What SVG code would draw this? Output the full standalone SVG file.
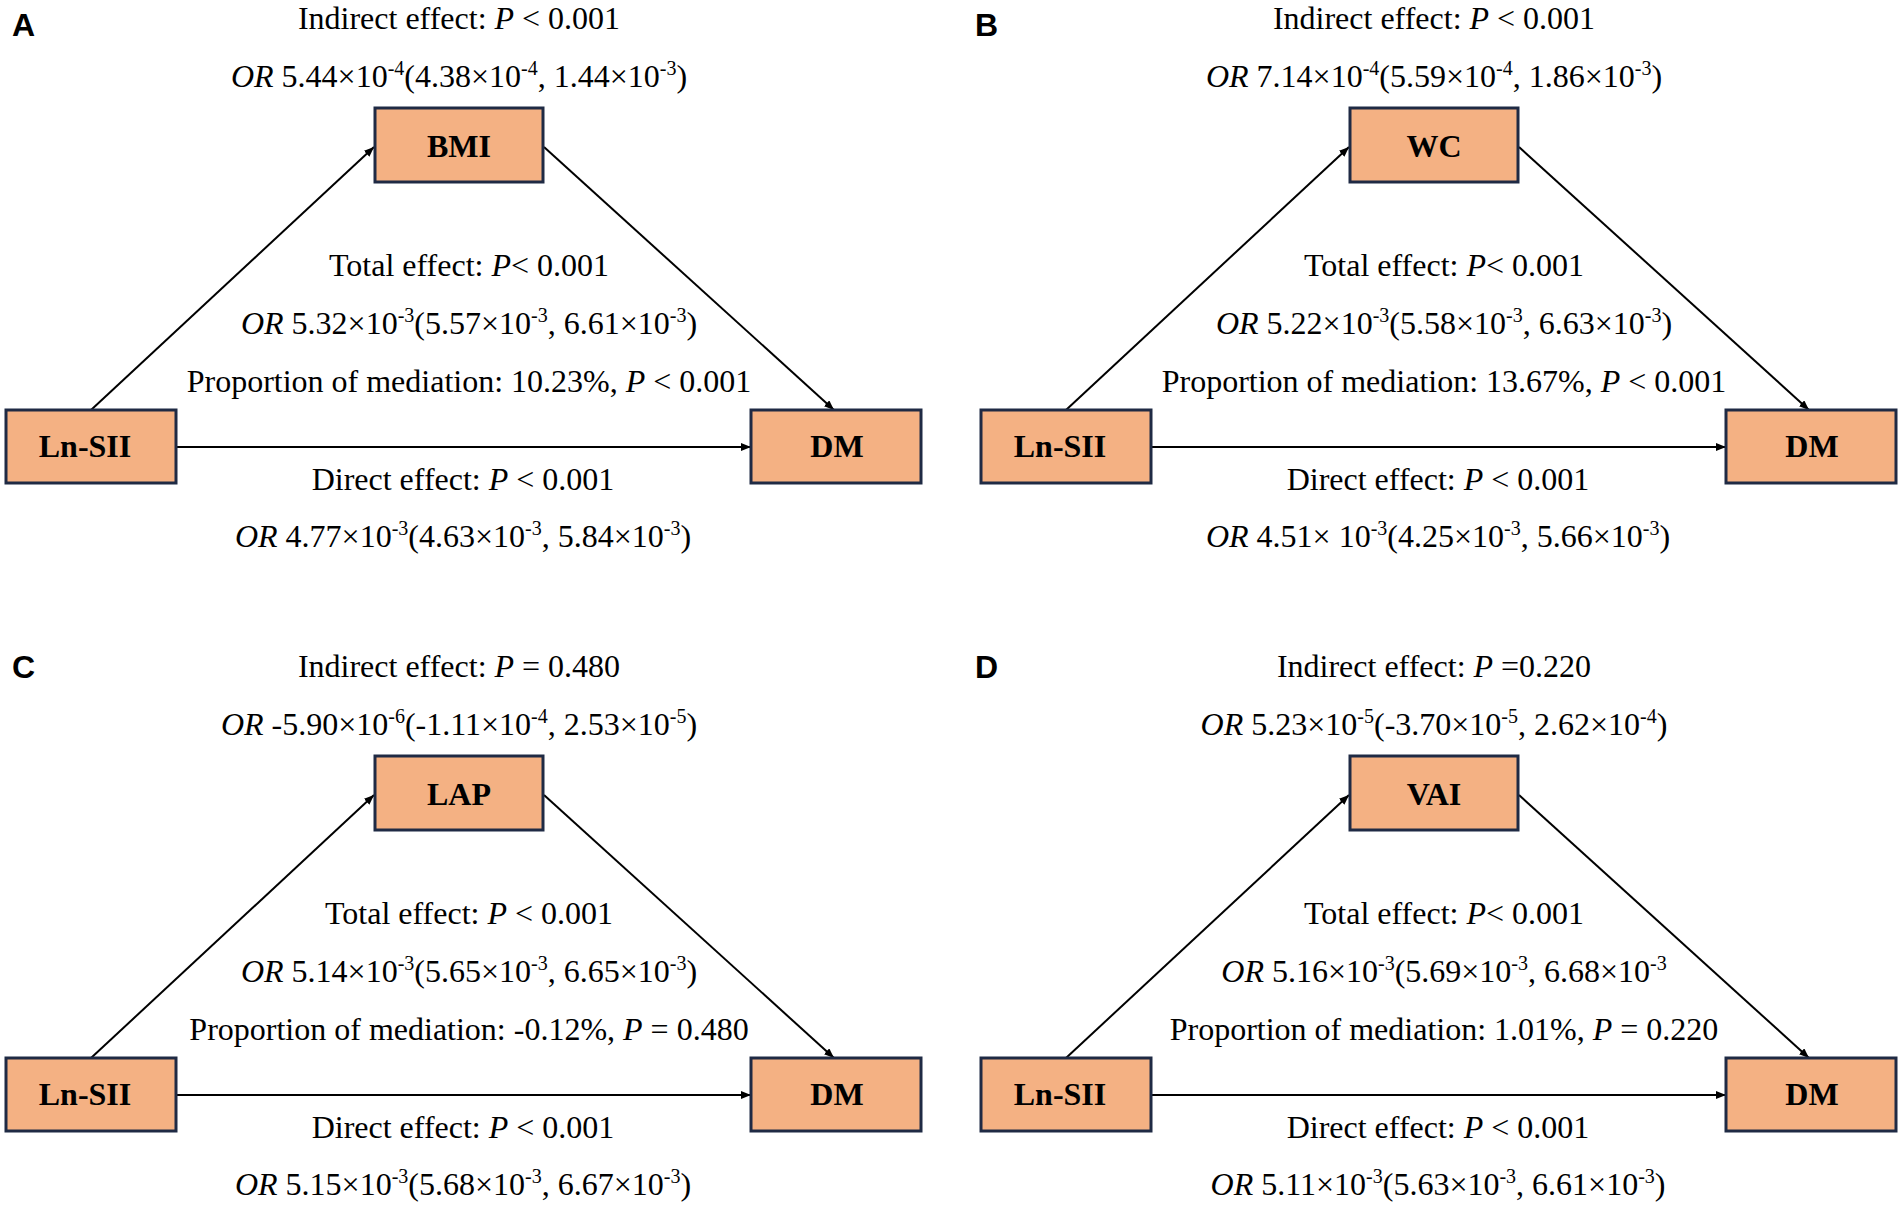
<svg xmlns="http://www.w3.org/2000/svg" width="1902" height="1211" viewBox="0 0 1902 1211">
<style>
.bg{fill:#ffffff}
.t{font-family:"Liberation Serif","Times New Roman",serif;font-size:32px;text-anchor:middle;fill:#000}
.i{font-style:italic}
.s{font-size:20px}
.box{fill:#F4B183;stroke:#1F2A44;stroke-width:3}
.nt{font-family:"Liberation Serif","Times New Roman",serif;font-size:32px;font-weight:bold;text-anchor:middle;fill:#000}
.lbl{font-family:"Liberation Sans",Arial,sans-serif;font-size:32px;font-weight:bold;fill:#000}
.edge{stroke:#000;stroke-width:2;fill:none;marker-end:url(#arr)}
</style>
<defs>
<marker id="arr" markerUnits="userSpaceOnUse" markerWidth="10" markerHeight="8" refX="10" refY="4" orient="auto">
<path d="M0,0 L10,4 L0,8 z" fill="#000"/>
</marker>
</defs>
<rect class="bg" x="0" y="0" width="1902" height="1211"/>

<!-- Panel A -->
<g id="panelA">
<text class="lbl" x="12" y="36">A</text>
<g id="A-connectors">
<line class="edge" x1="91" y1="410" x2="374" y2="147"/>
<line class="edge" x1="544" y1="147" x2="834" y2="410"/>
<line class="edge" x1="176" y1="447" x2="751" y2="447"/>
</g>
<g id="A-BMI"><rect class="box" x="375" y="108" width="168" height="74"/><text class="nt" x="459" y="157">BMI</text></g>
<g id="A-LnSII"><rect class="box" x="6" y="410" width="170" height="73"/><text class="nt" x="85" y="457">Ln-SII</text></g>
<g id="A-DM"><rect class="box" x="751" y="410" width="170" height="73"/><text class="nt" x="837" y="457">DM</text></g>
<text class="t" x="459" y="29">Indirect effect: <tspan class="i">P</tspan> &lt; 0.001</text>
<text class="t" x="459" y="87"><tspan class="i">OR</tspan> 5.44×10<tspan class="s" dy="-12">-4</tspan><tspan dy="12">(4.38×10</tspan><tspan class="s" dy="-12">-4</tspan><tspan dy="12">, 1.44×10</tspan><tspan class="s" dy="-12">-3</tspan><tspan dy="12">)</tspan></text>
<text class="t" x="469" y="276">Total effect: <tspan class="i">P</tspan>&lt; 0.001</text>
<text class="t" x="469" y="334"><tspan class="i">OR</tspan> 5.32×10<tspan class="s" dy="-12">-3</tspan><tspan dy="12">(5.57×10</tspan><tspan class="s" dy="-12">-3</tspan><tspan dy="12">, 6.61×10</tspan><tspan class="s" dy="-12">-3</tspan><tspan dy="12">)</tspan></text>
<text class="t" x="469" y="392">Proportion of mediation: 10.23%, <tspan class="i">P</tspan> &lt; 0.001</text>
<text class="t" x="463" y="490">Direct effect: <tspan class="i">P</tspan> &lt; 0.001</text>
<text class="t" x="463" y="547"><tspan class="i">OR</tspan> 4.77×10<tspan class="s" dy="-12">-3</tspan><tspan dy="12">(4.63×10</tspan><tspan class="s" dy="-12">-3</tspan><tspan dy="12">, 5.84×10</tspan><tspan class="s" dy="-12">-3</tspan><tspan dy="12">)</tspan></text>
</g>

<!-- Panel B -->
<g id="panelB" transform="translate(975,0)">
<text class="lbl" x="0" y="36">B</text>
<g id="B-connectors">
<line class="edge" x1="91" y1="410" x2="374" y2="147"/>
<line class="edge" x1="544" y1="147" x2="834" y2="410"/>
<line class="edge" x1="176" y1="447" x2="751" y2="447"/>
</g>
<g id="B-WC"><rect class="box" x="375" y="108" width="168" height="74"/><text class="nt" x="459" y="157">WC</text></g>
<g id="B-LnSII"><rect class="box" x="6" y="410" width="170" height="73"/><text class="nt" x="85" y="457">Ln-SII</text></g>
<g id="B-DM"><rect class="box" x="751" y="410" width="170" height="73"/><text class="nt" x="837" y="457">DM</text></g>
<text class="t" x="459" y="29">Indirect effect: <tspan class="i">P</tspan> &lt; 0.001</text>
<text class="t" x="459" y="87"><tspan class="i">OR</tspan> 7.14×10<tspan class="s" dy="-12">-4</tspan><tspan dy="12">(5.59×10</tspan><tspan class="s" dy="-12">-4</tspan><tspan dy="12">, 1.86×10</tspan><tspan class="s" dy="-12">-3</tspan><tspan dy="12">)</tspan></text>
<text class="t" x="469" y="276">Total effect: <tspan class="i">P</tspan>&lt; 0.001</text>
<text class="t" x="469" y="334"><tspan class="i">OR</tspan> 5.22×10<tspan class="s" dy="-12">-3</tspan><tspan dy="12">(5.58×10</tspan><tspan class="s" dy="-12">-3</tspan><tspan dy="12">, 6.63×10</tspan><tspan class="s" dy="-12">-3</tspan><tspan dy="12">)</tspan></text>
<text class="t" x="469" y="392">Proportion of mediation: 13.67%, <tspan class="i">P</tspan> &lt; 0.001</text>
<text class="t" x="463" y="490">Direct effect: <tspan class="i">P</tspan> &lt; 0.001</text>
<text class="t" x="463" y="547"><tspan class="i">OR</tspan> 4.51× 10<tspan class="s" dy="-12">-3</tspan><tspan dy="12">(4.25×10</tspan><tspan class="s" dy="-12">-3</tspan><tspan dy="12">, 5.66×10</tspan><tspan class="s" dy="-12">-3</tspan><tspan dy="12">)</tspan></text>
</g>

<!-- Panel C -->
<g id="panelC" transform="translate(0,648)">
<text class="lbl" x="12" y="30">C</text>
<g id="C-connectors">
<line class="edge" x1="91" y1="410" x2="374" y2="147"/>
<line class="edge" x1="544" y1="147" x2="834" y2="410"/>
<line class="edge" x1="176" y1="447" x2="751" y2="447"/>
</g>
<g id="C-LAP"><rect class="box" x="375" y="108" width="168" height="74"/><text class="nt" x="459" y="157">LAP</text></g>
<g id="C-LnSII"><rect class="box" x="6" y="410" width="170" height="73"/><text class="nt" x="85" y="457">Ln-SII</text></g>
<g id="C-DM"><rect class="box" x="751" y="410" width="170" height="73"/><text class="nt" x="837" y="457">DM</text></g>
<text class="t" x="459" y="29">Indirect effect: <tspan class="i">P</tspan> = 0.480</text>
<text class="t" x="459" y="87"><tspan class="i">OR</tspan> -5.90×10<tspan class="s" dy="-12">-6</tspan><tspan dy="12">(-1.11×10</tspan><tspan class="s" dy="-12">-4</tspan><tspan dy="12">, 2.53×10</tspan><tspan class="s" dy="-12">-5</tspan><tspan dy="12">)</tspan></text>
<text class="t" x="469" y="276">Total effect: <tspan class="i">P</tspan> &lt; 0.001</text>
<text class="t" x="469" y="334"><tspan class="i">OR</tspan> 5.14×10<tspan class="s" dy="-12">-3</tspan><tspan dy="12">(5.65×10</tspan><tspan class="s" dy="-12">-3</tspan><tspan dy="12">, 6.65×10</tspan><tspan class="s" dy="-12">-3</tspan><tspan dy="12">)</tspan></text>
<text class="t" x="469" y="392">Proportion of mediation: -0.12%, <tspan class="i">P</tspan> = 0.480</text>
<text class="t" x="463" y="490">Direct effect: <tspan class="i">P</tspan> &lt; 0.001</text>
<text class="t" x="463" y="547"><tspan class="i">OR</tspan> 5.15×10<tspan class="s" dy="-12">-3</tspan><tspan dy="12">(5.68×10</tspan><tspan class="s" dy="-12">-3</tspan><tspan dy="12">, 6.67×10</tspan><tspan class="s" dy="-12">-3</tspan><tspan dy="12">)</tspan></text>
</g>

<!-- Panel D -->
<g id="panelD" transform="translate(975,648)">
<text class="lbl" x="0" y="30">D</text>
<g id="D-connectors">
<line class="edge" x1="91" y1="410" x2="374" y2="147"/>
<line class="edge" x1="544" y1="147" x2="834" y2="410"/>
<line class="edge" x1="176" y1="447" x2="751" y2="447"/>
</g>
<g id="D-VAI"><rect class="box" x="375" y="108" width="168" height="74"/><text class="nt" x="459" y="157">VAI</text></g>
<g id="D-LnSII"><rect class="box" x="6" y="410" width="170" height="73"/><text class="nt" x="85" y="457">Ln-SII</text></g>
<g id="D-DM"><rect class="box" x="751" y="410" width="170" height="73"/><text class="nt" x="837" y="457">DM</text></g>
<text class="t" x="459" y="29">Indirect effect: <tspan class="i">P</tspan> =0.220</text>
<text class="t" x="459" y="87"><tspan class="i">OR</tspan> 5.23×10<tspan class="s" dy="-12">-5</tspan><tspan dy="12">(-3.70×10</tspan><tspan class="s" dy="-12">-5</tspan><tspan dy="12">, 2.62×10</tspan><tspan class="s" dy="-12">-4</tspan><tspan dy="12">)</tspan></text>
<text class="t" x="469" y="276">Total effect: <tspan class="i">P</tspan>&lt; 0.001</text>
<text class="t" x="469" y="334"><tspan class="i">OR</tspan> 5.16×10<tspan class="s" dy="-12">-3</tspan><tspan dy="12">(5.69×10</tspan><tspan class="s" dy="-12">-3</tspan><tspan dy="12">, 6.68×10</tspan><tspan class="s" dy="-12">-3</tspan></text>
<text class="t" x="469" y="392">Proportion of mediation: 1.01%, <tspan class="i">P</tspan> = 0.220</text>
<text class="t" x="463" y="490">Direct effect: <tspan class="i">P</tspan> &lt; 0.001</text>
<text class="t" x="463" y="547"><tspan class="i">OR</tspan> 5.11×10<tspan class="s" dy="-12">-3</tspan><tspan dy="12">(5.63×10</tspan><tspan class="s" dy="-12">-3</tspan><tspan dy="12">, 6.61×10</tspan><tspan class="s" dy="-12">-3</tspan><tspan dy="12">)</tspan></text>
</g>
</svg>
